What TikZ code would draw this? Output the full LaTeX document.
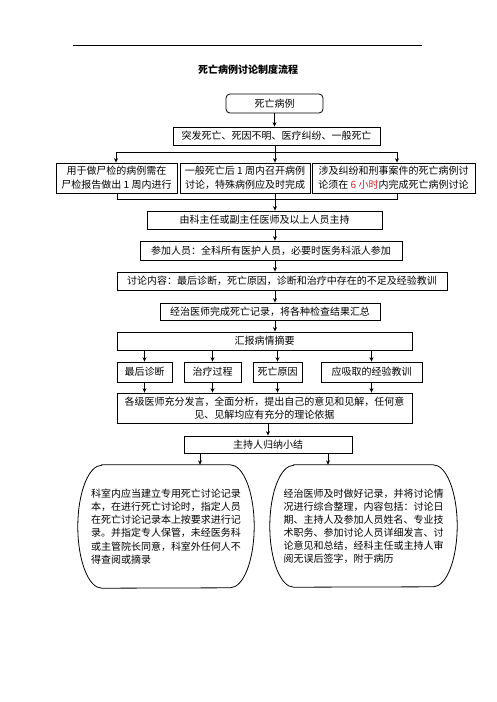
\documentclass[tikz,border=0pt]{standalone}
\usepackage{fontspec}
\setmainfont{Noto Sans CJK SC}
\usetikzlibrary{arrows.meta}
\definecolor{redtext}{RGB}{220,30,40}
\begin{document}
\begin{tikzpicture}[x=1pt,y=-1pt,
  every node/.style={font=\fontsize{10pt}{13.3pt}\selectfont, inner sep=0pt},
  box/.style={draw, line width=0.8pt, align=center},
  rbox/.style={box, rounded corners=4pt},
  ln/.style={line width=0.8pt},
  arr/.style={line width=0.8pt, -{Stealth[length=4.5pt,width=4pt]}},
  stad/.style={align=left, inner sep=0pt}
]
\useasboundingbox (0,0) rectangle (496,702);
\draw[line width=0.8pt] (73,45) -- (422,45);
\node[font=\fontsize{10pt}{12pt}\selectfont\bfseries] (title) at (248,70) {死亡病例讨论制度流程};

\node[rbox, minimum width=97, minimum height=19] (n1) at (274.5,103.5) {死亡病例};
\node[box, minimum width=207, minimum height=18] (n2) at (276.5,136) {突发死亡、死因不明、医疗纠纷、一般死亡};

\node[box, minimum width=121, minimum height=30, font=\fontsize{10pt}{14pt}\selectfont] (nA) at (116.5,178) {用于做尸检的病例需在\\尸检报告做出 1 周内进行};
\node[box, minimum width=130, minimum height=30, font=\fontsize{10pt}{14pt}\selectfont] (nB) at (245,178) {一般死亡后 1 周内召开病例\\讨论，特殊病例应及时完成};
\node[box, minimum width=163, minimum height=30, font=\fontsize{10pt}{14pt}\selectfont] (nC) at (393.5,178) {涉及纠纷和刑事案件的死亡病例讨\\论须在 \textcolor{redtext}{6 小时}内完成死亡病例讨论};

\node[box, minimum width=235, minimum height=18] (nD) at (264.5,220) {由科主任或副主任医师及以上人员主持};
\node[box, minimum width=262, minimum height=19] (nE) at (271,250.5) {参加人员：全科所有医护人员，必要时医务科派人参加};
\node[box, minimum width=330, minimum height=18] (nF) at (282,281) {讨论内容：最后诊断，死亡原因，诊断和治疗中存在的不足及经验教训};
\node[box, minimum width=220, minimum height=17] (nG) at (270,311.5) {经治医师完成死亡记录，将各种检查结果汇总};
\node[box, minimum width=295, minimum height=18] (nH) at (264.5,341) {汇报病情摘要};

\node[box, minimum width=55, minimum height=20] (k1) at (144.5,372) {最后诊断};
\node[box, minimum width=57, minimum height=20] (k2) at (212.5,372) {治疗过程};
\node[box, minimum width=49, minimum height=20] (k3) at (277.5,372) {死亡原因};
\node[box, minimum width=101, minimum height=20] (k4) at (371.5,372) {应吸取的经验教训};

\node[box, minimum width=295, minimum height=30, font=\fontsize{10pt}{13pt}\selectfont] (nI) at (264.5,408) {各级医师充分发言，全面分析，提出自己的意见和见解，任何意\\见、见解均应有充分的理论依据};
\node[box, minimum width=168, minimum height=17] (nJ) at (268,444.5) {主持人归纳小结};

\node[stad, minimum width=176, minimum height=123] (L) at (166,526.5) {科室内应当建立专用死亡讨论记录\\本，在进行死亡讨论时，指定人员\\在死亡讨论记录本上按要求进行记\\录。并指定专人保管，未经医务科\\或主管院长同意，科室外任何人不\\得查阅或摘录};
\node[stad, minimum width=187, minimum height=122, font=\fontsize{10pt}{13pt}\selectfont] (R) at (363.5,526) {经治医师及时做好记录，并将讨论情\\况进行综合整理，内容包括：讨论日\\期、主持人及参加人员姓名、专业技\\术职务、参加讨论人员详细发言、讨\\论意见和总结，经科主任或主持人审\\阅无误后签字，附于病历};

\draw[ln] ([xshift=24pt]L.north west) -- ([xshift=-24pt]L.north east)
  arc[start angle=90,end angle=-90,x radius=24pt,y radius=61.5pt]
  -- ([xshift=24pt]L.south west)
  arc[start angle=270,end angle=90,x radius=24pt,y radius=61.5pt] -- cycle;
\draw[ln] ([xshift=24pt]R.north west) -- ([xshift=-24pt]R.north east)
  arc[start angle=90,end angle=-90,x radius=24pt,y radius=61pt]
  -- ([xshift=24pt]R.south west)
  arc[start angle=270,end angle=90,x radius=24pt,y radius=61pt] -- cycle;

% connectors
\coordinate (b0) at (275,152);
\coordinate (bl) at (116,152);
\coordinate (br) at (397,152);
\coordinate (m0) at (275,199);
\coordinate (ml) at (117,199);
\coordinate (mr) at (397,199);
\coordinate (jl) at (200,0);
\coordinate (jr) at (328,0);

\draw[arr] (n1.south) -- (n1.south |- n2.north);
\draw[ln] (n2.south -| b0) -- (b0);
\draw[ln] (bl) -- (br);
\draw[arr] (bl) -- (bl |- nA.north);
\draw[arr] (b0) -- (b0 |- nB.north);
\draw[arr] (br) -- (br |- nC.north);
\draw[ln] (ml |- nA.south) -- (ml) -- (mr) -- (mr |- nC.south);
\draw[ln] (m0 |- nB.south) -- (m0);
\draw[arr] (m0) -- (m0 |- nD.north);
\draw[arr] (m0 |- nD.south) -- (m0 |- nE.north);
\draw[arr] (m0 |- nE.south) -- (m0 |- nF.north);
\draw[arr] (m0 |- nF.south) -- (m0 |- nG.north);
\draw[arr] (m0 |- nG.south) -- (m0 |- nH.north);
\foreach \k in {k1,k2,k3,k4}{
  \draw[arr] (\k.north |- nH.south) -- (\k.north);
  \draw[arr] (\k.south) -- (\k.south |- nI.north);
}
\draw[arr] (nJ.north |- nI.south) -- (nJ.north);
\draw[arr] (nJ.south -| jl) -- (L.north -| jl);
\draw[arr] (nJ.south -| jr) -- (R.north -| jr);
\end{tikzpicture}
\end{document}
